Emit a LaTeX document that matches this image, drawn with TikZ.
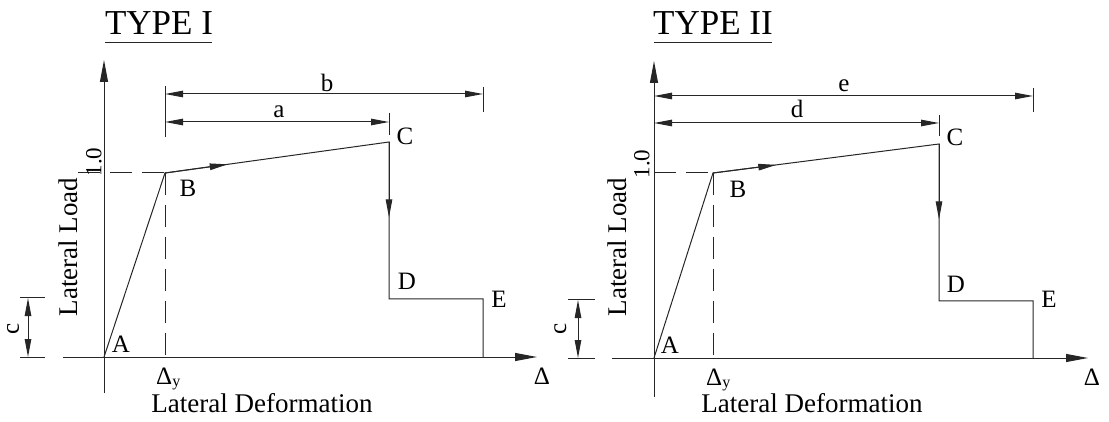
\documentclass[tikz,border=0pt]{standalone}
\usepackage{fontspec}
\setmainfont{Liberation Serif}
\usetikzlibrary{arrows.meta,calc}
\begin{document}
\begin{tikzpicture}[x=1pt,y=-1pt,
  ln/.style={line width=1pt, draw=black!85},
  dsh/.style={ln, dash pattern=on 22pt off 10pt},
  axtip/.style={-{Triangle[length=22pt,width=8pt]}},
  dimtip/.style={{Triangle[length=18pt,width=6.5pt]}-{Triangle[length=18pt,width=6.5pt]}},
  midtip/.style={-{Triangle[length=18pt,width=6.5pt]}},
  lbl/.style={font=\fontsize{25}{25}\selectfont, inner sep=0pt, anchor=base},
  big/.style={font=\fontsize{27}{27}\selectfont, inner sep=0pt},
  ttl/.style={font=\fontsize{35}{35}\selectfont, inner sep=0pt, anchor=base},
  one/.style={font=\fontsize{23}{23}\selectfont, inner sep=0pt, rotate=90}
]
\useasboundingbox (0,0) rectangle (1109,422);

% ================= TYPE I =================
\coordinate (O1) at (104,357);
\coordinate (Yt1) at (104,60);
\coordinate (Yb1) at (104,393);
\coordinate (Xl1) at (63,357);
\coordinate (Xr1) at (537,357);
\coordinate (B1) at (165,173);
\coordinate (C1) at (389,142);
\coordinate (D1) at (389,299);
\coordinate (E1) at (483,299);
\coordinate (E1b) at (483,357);
\coordinate (Dy1) at (165,357);
\coordinate (H1) at (78,173);
\coordinate (bL1) at (165,94);
\coordinate (bR1) at (483,94);
\coordinate (aL1) at (165,122);
\coordinate (aR1) at (389,122);
\coordinate (tkL1a) at (165,86);
\coordinate (tkL1b) at (165,137);
\coordinate (tkb1a) at (483,87);
\coordinate (tkb1b) at (483,112);
\coordinate (tka1a) at (389,113);
\coordinate (tka1b) at (389,135);
\coordinate (cT1) at (28,298);
\coordinate (cB1) at (28,357);
\coordinate (cT1l) at (20,298);
\coordinate (cT1r) at (45,298);
\coordinate (cB1l) at (20,357);
\coordinate (cB1r) at (45,357);

\node[ttl] (t1) at (159,35) {TYPE I};
\draw[ln] (105,43) -- (212,43);

\draw[ln, axtip] (Yb1) -- (Yt1);
\draw[ln, axtip] (Xl1) -- (Xr1);
\draw[dsh] (H1) -- (B1);
\draw[dsh] (B1) -- (Dy1);
\draw[ln] (O1) -- (B1) -- (C1) -- (D1) -- (E1) -- (E1b);
\draw[ln, midtip] (B1) -- ($(B1)!0.28!(C1)$);
\draw[ln, midtip] (C1) -- ($(C1)!0.48!(D1)$);
\draw[ln] (tkL1a) -- (tkL1b);
\draw[ln] (tkb1a) -- (tkb1b);
\draw[ln] (tka1a) -- (tka1b);
\draw[ln, dimtip] (bL1) -- (bR1);
\draw[ln, dimtip] (aL1) -- (aR1);
\draw[ln] (cT1l) -- (cT1r);
\draw[ln] (cB1l) -- (cB1r);
\draw[ln, dimtip] (cT1) -- (cB1);

\node[lbl] (lA1) at (121,352) {A};
\node[lbl] (lB1) at (188,197) {B};
\node[lbl] (lC1) at (405,145) {C};
\node[lbl] (lD1) at (407,290) {D};
\node[lbl] (lE1) at (499,307) {E};
\node[lbl] (lDelta1) at (542,384) {Δ};
\node[lbl, anchor=base west] (lDy1) at (156,384) {Δ\raisebox{-2pt}{\fontsize{16}{16}\selectfont y}};
\node[lbl] (la1) at (279,118) {a};
\node[lbl] (lb1) at (327,92) {b};
\node[lbl, rotate=90] (lc1) at (19,329) {c};
\node[one] (l101) at (94,162) {1.0};
\node[big, rotate=90] (lL1) at (68,247) {Lateral Load};
\node[big, anchor=base] (lX1) at (262,412) {Lateral Deformation};

% ================= TYPE II =================
\coordinate (O2) at (654,358);
\coordinate (Yt2) at (654,61);
\coordinate (Yb2) at (654,397);
\coordinate (Xl2) at (612,358);
\coordinate (Xr2) at (1088,358);
\coordinate (B2) at (713,173);
\coordinate (C2) at (939,144);
\coordinate (D2) at (939,301);
\coordinate (E2) at (1033,301);
\coordinate (E2b) at (1033,358);
\coordinate (Dy2) at (713,358);
\coordinate (H2) at (654,173);
\coordinate (eL2) at (654,96);
\coordinate (eR2) at (1033,96);
\coordinate (dL2) at (654,123);
\coordinate (dR2) at (939,123);
\coordinate (tke2a) at (1033,88);
\coordinate (tke2b) at (1033,112);
\coordinate (tkd2a) at (939,115);
\coordinate (tkd2b) at (939,136);
\coordinate (cT2) at (578,300);
\coordinate (cB2) at (578,358);
\coordinate (cT2l) at (568,300);
\coordinate (cT2r) at (595,300);
\coordinate (cB2l) at (568,358);
\coordinate (cB2r) at (595,358);

\node[ttl] (t2) at (713,35) {TYPE II};
\draw[ln] (654,43) -- (772,43);

\draw[ln, axtip] (Yb2) -- (Yt2);
\draw[ln, axtip] (Xl2) -- (Xr2);
\draw[dsh] (H2) -- (B2);
\draw[dsh] (B2) -- (Dy2);
\draw[ln] (O2) -- (B2) -- (C2) -- (D2) -- (E2) -- (E2b);
\draw[ln, midtip] (B2) -- ($(B2)!0.28!(C2)$);
\draw[ln, midtip] (C2) -- ($(C2)!0.48!(D2)$);
\draw[ln] (tke2a) -- (tke2b);
\draw[ln] (tkd2a) -- (tkd2b);
\draw[ln, dimtip] (eL2) -- (eR2);
\draw[ln, dimtip] (dL2) -- (dR2);
\draw[ln] (cT2l) -- (cT2r);
\draw[ln] (cB2l) -- (cB2r);
\draw[ln, dimtip] (cT2) -- (cB2);

\node[lbl] (lA2) at (670,353) {A};
\node[lbl] (lB2) at (738,198) {B};
\node[lbl] (lC2) at (955,146) {C};
\node[lbl] (lD2) at (956,292) {D};
\node[lbl] (lE2) at (1049,308) {E};
\node[lbl] (lDelta2) at (1092,385) {Δ};
\node[lbl, anchor=base west] (lDy2) at (706,385) {Δ\raisebox{-2pt}{\fontsize{16}{16}\selectfont y}};
\node[lbl] (ld2) at (797,118) {d};
\node[lbl] (le2) at (844,92) {e};
\node[lbl, rotate=90] (lc2) at (566,329) {c};
\node[one] (l102) at (642,164) {1.0};
\node[big, rotate=90] (lL2) at (617,247) {Lateral Load};
\node[big, anchor=base] (lX2) at (812,412) {Lateral Deformation};
\end{tikzpicture}
\end{document}
